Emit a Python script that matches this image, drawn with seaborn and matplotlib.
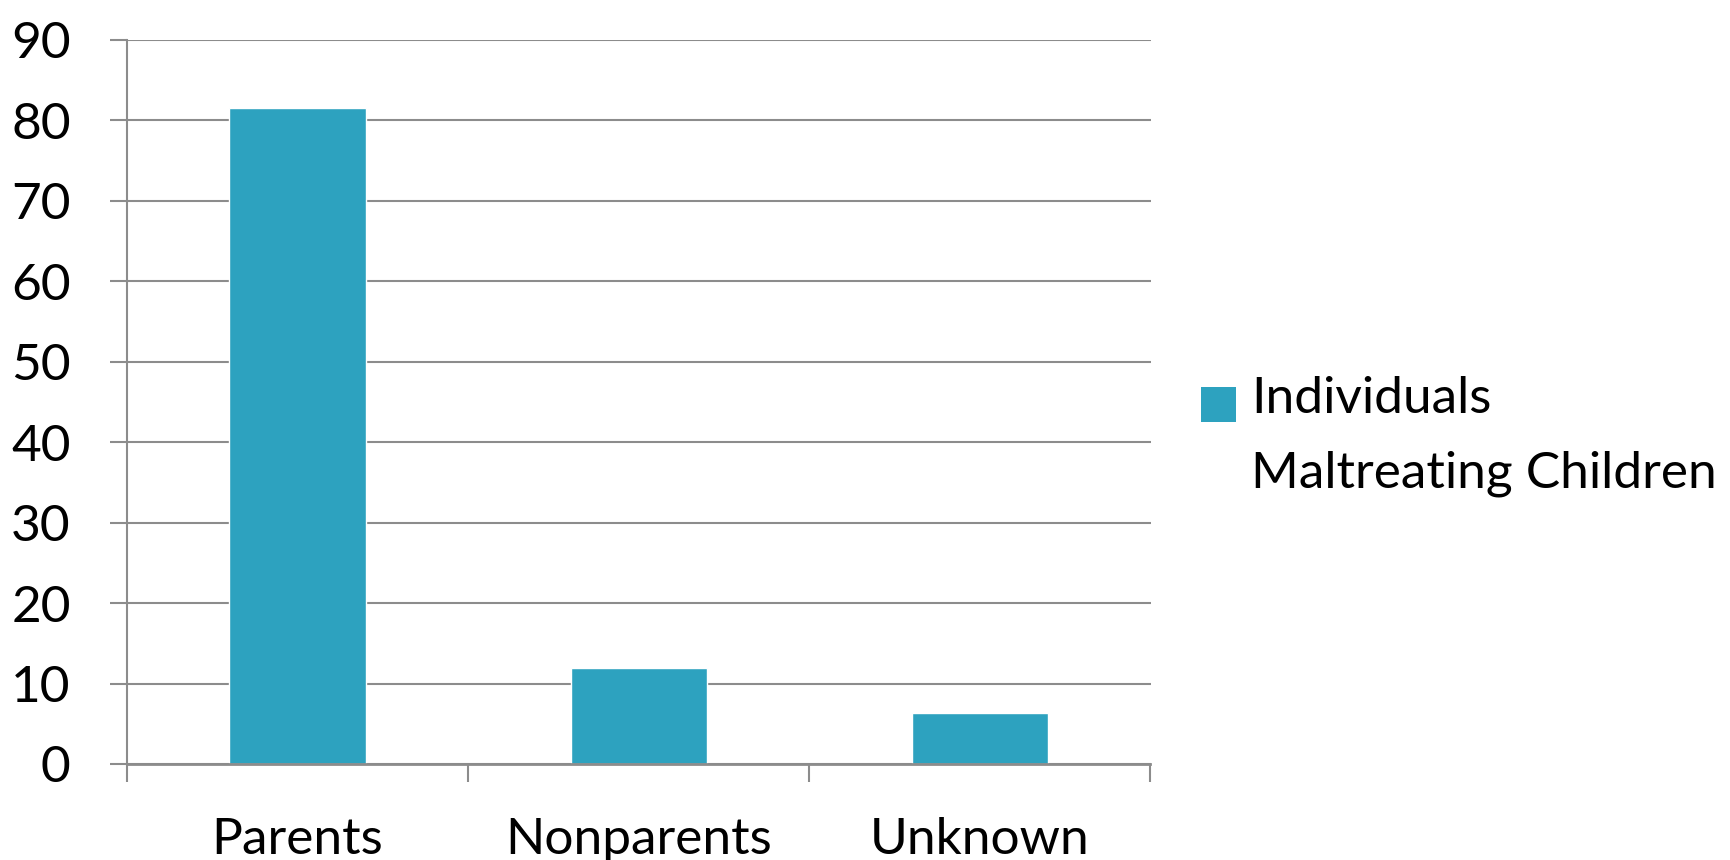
import matplotlib
matplotlib.use("Agg")
import matplotlib.pyplot as plt
from matplotlib.patches import Patch, Rectangle
from matplotlib.legend_handler import HandlerPatch
from matplotlib.ticker import FixedLocator
import seaborn as sns
import pandas as pd

# Perpetrator relationship shares (percent)
categories = ["Parents", "Nonparents", "Unknown"]
percent = [81.5, 11.9, 6.4]
series_name = "Individuals"
series_name_line2 = "Maltreating Children"
y_ticks = [0, 10, 20, 30, 40, 50, 60, 70, 80, 90]

BAR = "#2DA2BF"
GRID = "#8C8C8C"

sns.set_style("white")
plt.rcParams["font.family"] = ["Lato", "DejaVu Sans"]
plt.rcParams["text.color"] = "black"

df = pd.DataFrame({"group": categories, "pct": percent})

fig = plt.figure(figsize=(17.31, 8.60), dpi=100)
ax = fig.add_axes([127 / 1731, 1 - 764 / 860, (1150.5 - 127) / 1731, (764 - 40) / 860])

sns.barplot(data=df, x="group", y="pct", color=BAR, saturation=1,
            width=0.4, ax=ax, zorder=3)

ax.set_ylim(0, 90)
ax.set_xlim(-0.5, len(categories) - 0.5)
ax.set_yticks(y_ticks)
ax.set_xlabel("")
ax.set_ylabel("")

ax.yaxis.grid(True, color=GRID, linewidth=1.5, zorder=0)
ax.set_axisbelow(True)
for s in ("top", "right"):
    ax.spines[s].set_visible(False)
ax.spines["left"].set_color(GRID)
ax.spines["left"].set_linewidth(1.5)
ax.spines["bottom"].set_color(GRID)
ax.spines["bottom"].set_linewidth(2.0)
ax.spines["bottom"].set_zorder(4)

ax.tick_params(axis="y", which="major", left=True, length=12.5, width=1.5,
               color=GRID, direction="out", pad=28, labelsize=37,
               labelcolor="black")
ax.tick_params(axis="x", which="major", bottom=True, length=0, pad=38,
               labelsize=37, labelcolor="black")
# category separators below the baseline
ax.xaxis.set_minor_locator(FixedLocator([i - 0.5 for i in range(len(categories) + 1)]))
ax.tick_params(axis="x", which="minor", bottom=True, length=13, width=1.5,
               color=GRID, direction="out")


def lowered_square(legend, orig_handle, xdescent, ydescent, width, height, fontsize):
    # swatch sits slightly below the text centre
    return Rectangle((-xdescent, -ydescent - 7.2), width, height)


handle = Patch(facecolor=BAR, edgecolor="none")
leg = fig.legend([handle], [series_name], loc="upper left",
                 bbox_to_anchor=(1201 / 1731, 1 - 375.5 / 860),
                 frameon=False, fontsize=37, borderpad=0, borderaxespad=0,
                 handlelength=0.68, handleheight=0.68, handletextpad=0.30,
                 labelcolor="black",
                 handler_map={Patch: HandlerPatch(patch_func=lowered_square)})

fig.canvas.draw()
txt = leg.get_texts()[0]
bb = txt.get_window_extent()
fig.text(bb.x0 / fig.bbox.width, (bb.y0 - 75) / fig.bbox.height,
         series_name_line2, fontsize=37, ha="left", va="bottom", color="black")

fig.savefig("out.png", dpi=100, facecolor="white")
